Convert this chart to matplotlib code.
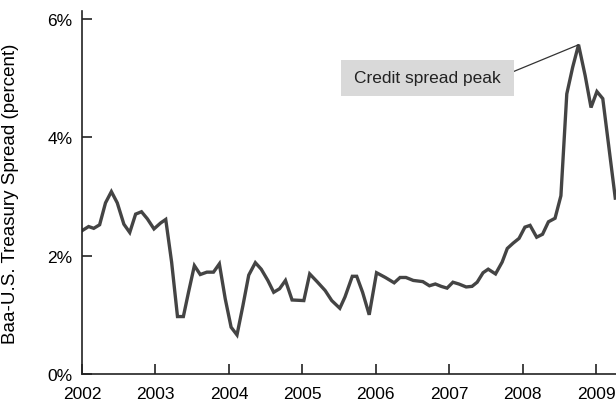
import matplotlib
matplotlib.use("Agg")
import matplotlib.pyplot as plt
from matplotlib.patches import Rectangle

plt.rcParams["font.family"] = ["Liberation Sans", "DejaVu Sans"]

# Baa - U.S. Treasury spread (percent)
dates = [2002.00, 2002.09, 2002.16, 2002.24, 2002.32, 2002.40, 2002.48, 2002.57,
         2002.65, 2002.73, 2002.81, 2002.89, 2002.98, 2003.07, 2003.14, 2003.22,
         2003.30, 2003.38, 2003.45, 2003.53, 2003.61, 2003.70, 2003.79, 2003.87,
         2003.95, 2004.03, 2004.11, 2004.19, 2004.27, 2004.36, 2004.44, 2004.53,
         2004.61, 2004.69, 2004.77, 2004.86, 2005.02, 2005.10, 2005.20, 2005.31,
         2005.40, 2005.51, 2005.58, 2005.68, 2005.74, 2005.82, 2005.91, 2006.01,
         2006.13, 2006.25, 2006.33, 2006.41, 2006.51, 2006.64, 2006.73, 2006.81,
         2006.89, 2006.97, 2007.05, 2007.13, 2007.23, 2007.31, 2007.38, 2007.46,
         2007.53, 2007.63, 2007.72, 2007.79, 2007.87, 2007.95, 2008.03, 2008.10,
         2008.19, 2008.27, 2008.35, 2008.44, 2008.52, 2008.60, 2008.68, 2008.76,
         2008.85, 2008.93, 2009.01, 2009.09, 2009.17, 2009.26]
spread = [2.42, 2.49, 2.46, 2.52, 2.89, 3.08, 2.89, 2.53,
          2.39, 2.70, 2.74, 2.62, 2.45, 2.55, 2.61, 1.89,
          0.97, 0.97, 1.38, 1.83, 1.68, 1.72, 1.72, 1.86,
          1.27, 0.79, 0.66, 1.15, 1.67, 1.88, 1.77, 1.58,
          1.38, 1.44, 1.58, 1.25, 1.24, 1.69, 1.56, 1.41,
          1.24, 1.11, 1.30, 1.65, 1.65, 1.38, 1.00, 1.71,
          1.63, 1.54, 1.63, 1.63, 1.58, 1.56, 1.49, 1.52,
          1.48, 1.45, 1.55, 1.52, 1.47, 1.48, 1.55, 1.71,
          1.77, 1.69, 1.89, 2.12, 2.21, 2.29, 2.48, 2.51,
          2.31, 2.36, 2.57, 2.63, 3.01, 4.73, 5.18, 5.56,
          5.04, 4.50, 4.77, 4.65, 3.86, 2.97]

years = [2002, 2003, 2004, 2005, 2006, 2007, 2008, 2009]
yticks = [0, 2, 4, 6]
ytick_labels = ["0%", "2%", "4%", "6%"]

fig = plt.figure(figsize=(6.16, 4.06), dpi=100)
ax = fig.add_axes([82 / 616, 31 / 406, 1 - 82 / 616, (375 - 12) / 406])

ax.plot(dates, spread, color="#444444", linewidth=2.4, solid_joinstyle="miter")

ax.set_xlim(2002, 2009.27)
ax.set_ylim(0, 6.13)
ax.set_xticks(years)
ax.set_xticklabels([str(y) for y in years], fontsize=12.5)
ax.set_yticks(yticks)
ax.set_yticklabels(ytick_labels, fontsize=12.5)
ax.tick_params(direction="in", length=7, width=1.2, color="#222222")
ax.tick_params(axis="y", pad=7)
ax.tick_params(axis="x", pad=9)
for side in ["top", "right"]:
    ax.spines[side].set_visible(False)
for side in ["left", "bottom"]:
    ax.spines[side].set_linewidth(1.2)
    ax.spines[side].set_color("#222222")

ax.set_ylabel("Baa-U.S. Treasury Spread (percent)", fontsize=13.5, labelpad=20)

# annotation box pointing at the peak
peak_i = spread.index(max(spread))
ax.add_patch(Rectangle((2005.53, 4.69), 2.35, 0.62, facecolor="#d9d9d9",
                       edgecolor="none", zorder=3))
ax.text(2006.70, 5.01, "Credit spread peak", fontsize=12.5, ha="center",
        va="center", color="#222222", zorder=4)
ax.plot([2007.88, dates[peak_i]], [5.11, spread[peak_i]], color="#333333",
        linewidth=0.9, zorder=2)

fig.savefig("out.png", dpi=100)
